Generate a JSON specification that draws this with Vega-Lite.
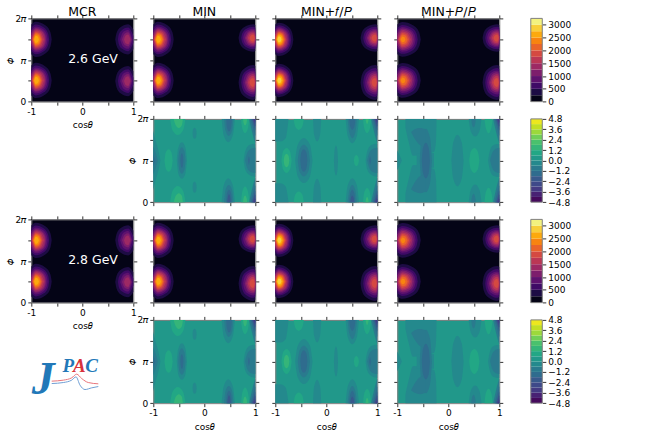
{"$schema":"https://vega.github.io/schema/vega-lite/v6.json","padding":{"left":4.3,"top":5.4,"right":0,"bottom":0},"background":"white","columns":5,"bounds":"flush","spacing":{"row":16.5,"column":20},
"config":{"font":"DejaVu Sans","view":{"stroke":null},"legend":{"disable":true},"range":{"ordinal":["#450a5c","#482173","#443a83","#3e4989","#38598c","#2f6c8e","#2a7a8e","#24898d","#21988a","#22a785","#35b579","#4ac16d","#70cf57","#9cd93b","#c2df23","#ede71e"]},"title":{"fontSize":12.5,"fontWeight":"normal","offset":-4.3,"color":"#000"},"axis":{"labelFont":"DejaVu Sans","labelFontSize":9,"labelColor":"#000","titleFontSize":9,"titleFontWeight":"normal","titleColor":"#000","tickColor":"#000","tickSize":3.5,"tickWidth":0.8,"domainColor":"#808080","domainWidth":1,"grid":false,"labelPadding":2,"labelFlush":false,"labelOverlap":false,"zindex":1}},
"datasets":{
"f":[{"i":0,"v":125,"x":-1,"y":0,"z":0},{"i":0,"v":125,"x":1,"y":6.2832,"z":6.2832}],
"lA":[{"i":1,"v":375,"x":-1,"y":0.47,"z":2.73},{"i":1,"v":375,"x":-0.91,"y":0.27,"z":2.93},{"i":1,"v":375,"x":-0.724,"y":0.54,"z":2.66},{"i":1,"v":375,"x":-0.625,"y":1.07,"z":2.13},{"i":1,"v":375,"x":-0.6,"y":1.6,"z":1.6},
{"i":2,"v":625,"x":-1,"y":0.72,"z":2.48},{"i":2,"v":625,"x":-0.91,"y":0.47,"z":2.73},{"i":2,"v":625,"x":-0.754,"y":0.7,"z":2.5},{"i":2,"v":625,"x":-0.671,"y":1.15,"z":2.05},{"i":2,"v":625,"x":-0.65,"y":1.6,"z":1.6},
{"i":3,"v":875,"x":-1,"y":0.92,"z":2.28},{"i":3,"v":875,"x":-0.91,"y":0.62,"z":2.58},{"i":3,"v":875,"x":-0.772,"y":0.82,"z":2.38},{"i":3,"v":875,"x":-0.698,"y":1.21,"z":1.99},{"i":3,"v":875,"x":-0.68,"y":1.6,"z":1.6},
{"i":4,"v":1125,"x":-1,"y":1.11,"z":2.09},{"i":4,"v":1125,"x":-0.91,"y":0.74,"z":2.46},{"i":4,"v":1125,"x":-0.79,"y":0.91,"z":2.29},{"i":4,"v":1125,"x":-0.726,"y":1.26,"z":1.94},{"i":4,"v":1125,"x":-0.71,"y":1.6,"z":1.6},
{"i":5,"v":1375,"x":-1,"y":1.3,"z":1.9},{"i":5,"v":1375,"x":-0.91,"y":0.83,"z":2.37},{"i":5,"v":1375,"x":-0.802,"y":0.98,"z":2.22},{"i":5,"v":1375,"x":-0.744,"y":1.29,"z":1.91},{"i":5,"v":1375,"x":-0.73,"y":1.6,"z":1.6},
{"i":6,"v":1625,"x":-0.996,"y":1.6,"z":1.6},{"i":6,"v":1625,"x":-0.91,"y":0.93,"z":2.27},{"i":6,"v":1625,"x":-0.814,"y":1.06,"z":2.14},{"i":6,"v":1625,"x":-0.75,"y":1.6,"z":1.6},
{"i":7,"v":1875,"x":-0.984,"y":1.6,"z":1.6},{"i":7,"v":1875,"x":-0.91,"y":1.02,"z":2.18},{"i":7,"v":1875,"x":-0.832,"y":1.14,"z":2.06},{"i":7,"v":1875,"x":-0.78,"y":1.6,"z":1.6},
{"i":8,"v":2125,"x":-0.97,"y":1.6,"z":1.6},{"i":8,"v":2125,"x":-0.91,"y":1.12,"z":2.08},{"i":8,"v":2125,"x":-0.844,"y":1.22,"z":1.98},{"i":8,"v":2125,"x":-0.8,"y":1.6,"z":1.6},
{"i":9,"v":2375,"x":-0.96,"y":1.6,"z":1.6},{"i":9,"v":2375,"x":-0.91,"y":1.21,"z":1.99},{"i":9,"v":2375,"x":-0.856,"y":1.29,"z":1.91},{"i":9,"v":2375,"x":-0.82,"y":1.6,"z":1.6},
{"i":10,"v":2625,"x":-0.944,"y":1.6,"z":1.6},{"i":10,"v":2625,"x":-0.91,"y":1.33,"z":1.87},{"i":10,"v":2625,"x":-0.874,"y":1.38,"z":1.82},{"i":10,"v":2625,"x":-0.85,"y":1.6,"z":1.6},
{"i":11,"v":375,"x":-1,"y":3.57,"z":5.83},{"i":11,"v":375,"x":-0.91,"y":3.37,"z":6.03},{"i":11,"v":375,"x":-0.724,"y":3.64,"z":5.76},{"i":11,"v":375,"x":-0.625,"y":4.17,"z":5.23},{"i":11,"v":375,"x":-0.6,"y":4.7,"z":4.7},
{"i":12,"v":625,"x":-1,"y":3.82,"z":5.58},{"i":12,"v":625,"x":-0.91,"y":3.57,"z":5.83},{"i":12,"v":625,"x":-0.754,"y":3.8,"z":5.6},{"i":12,"v":625,"x":-0.671,"y":4.25,"z":5.15},{"i":12,"v":625,"x":-0.65,"y":4.7,"z":4.7},
{"i":13,"v":875,"x":-1,"y":4.02,"z":5.38},{"i":13,"v":875,"x":-0.91,"y":3.72,"z":5.68},{"i":13,"v":875,"x":-0.772,"y":3.92,"z":5.48},{"i":13,"v":875,"x":-0.698,"y":4.31,"z":5.09},{"i":13,"v":875,"x":-0.68,"y":4.7,"z":4.7},
{"i":14,"v":1125,"x":-1,"y":4.21,"z":5.19},{"i":14,"v":1125,"x":-0.91,"y":3.84,"z":5.56},{"i":14,"v":1125,"x":-0.79,"y":4.01,"z":5.39},{"i":14,"v":1125,"x":-0.726,"y":4.36,"z":5.04},{"i":14,"v":1125,"x":-0.71,"y":4.7,"z":4.7},
{"i":15,"v":1375,"x":-1,"y":4.4,"z":5},{"i":15,"v":1375,"x":-0.91,"y":3.93,"z":5.47},{"i":15,"v":1375,"x":-0.802,"y":4.08,"z":5.32},{"i":15,"v":1375,"x":-0.744,"y":4.39,"z":5.01},{"i":15,"v":1375,"x":-0.73,"y":4.7,"z":4.7},
{"i":16,"v":1625,"x":-0.996,"y":4.7,"z":4.7},{"i":16,"v":1625,"x":-0.91,"y":4.03,"z":5.37},{"i":16,"v":1625,"x":-0.814,"y":4.16,"z":5.24},{"i":16,"v":1625,"x":-0.75,"y":4.7,"z":4.7},
{"i":17,"v":1875,"x":-0.984,"y":4.7,"z":4.7},{"i":17,"v":1875,"x":-0.91,"y":4.12,"z":5.28},{"i":17,"v":1875,"x":-0.832,"y":4.24,"z":5.16},{"i":17,"v":1875,"x":-0.78,"y":4.7,"z":4.7},
{"i":18,"v":2125,"x":-0.97,"y":4.7,"z":4.7},{"i":18,"v":2125,"x":-0.91,"y":4.22,"z":5.18},{"i":18,"v":2125,"x":-0.844,"y":4.32,"z":5.08},{"i":18,"v":2125,"x":-0.8,"y":4.7,"z":4.7},
{"i":19,"v":2375,"x":-0.96,"y":4.7,"z":4.7},{"i":19,"v":2375,"x":-0.91,"y":4.31,"z":5.09},{"i":19,"v":2375,"x":-0.856,"y":4.39,"z":5.01},{"i":19,"v":2375,"x":-0.82,"y":4.7,"z":4.7},
{"i":20,"v":2625,"x":-0.944,"y":4.7,"z":4.7},{"i":20,"v":2625,"x":-0.91,"y":4.43,"z":4.97},{"i":20,"v":2625,"x":-0.874,"y":4.48,"z":4.92},{"i":20,"v":2625,"x":-0.85,"y":4.7,"z":4.7}],
"lF":[{"i":1,"v":375,"x":-1,"y":0.47,"z":2.73},{"i":1,"v":375,"x":-0.93,"y":0.34,"z":2.86},{"i":1,"v":375,"x":-0.76,"y":0.59,"z":2.61},{"i":1,"v":375,"x":-0.669,"y":1.1,"z":2.1},{"i":1,"v":375,"x":-0.646,"y":1.6,"z":1.6},
{"i":2,"v":625,"x":-1,"y":0.69,"z":2.51},{"i":2,"v":625,"x":-0.93,"y":0.53,"z":2.67},{"i":2,"v":625,"x":-0.785,"y":0.74,"z":2.46},{"i":2,"v":625,"x":-0.708,"y":1.17,"z":2.03},{"i":2,"v":625,"x":-0.689,"y":1.6,"z":1.6},
{"i":3,"v":875,"x":-1,"y":0.84,"z":2.36},{"i":3,"v":875,"x":-0.93,"y":0.66,"z":2.54},{"i":3,"v":875,"x":-0.803,"y":0.85,"z":2.35},{"i":3,"v":875,"x":-0.735,"y":1.22,"z":1.98},{"i":3,"v":875,"x":-0.718,"y":1.6,"z":1.6},
{"i":4,"v":1125,"x":-1,"y":0.98,"z":2.22},{"i":4,"v":1125,"x":-0.93,"y":0.76,"z":2.44},{"i":4,"v":1125,"x":-0.817,"y":0.93,"z":2.27},{"i":4,"v":1125,"x":-0.756,"y":1.26,"z":1.94},{"i":4,"v":1125,"x":-0.741,"y":1.6,"z":1.6},
{"i":5,"v":1375,"x":-1,"y":1.1,"z":2.1},{"i":5,"v":1375,"x":-0.93,"y":0.85,"z":2.35},{"i":5,"v":1375,"x":-0.829,"y":1,"z":2.2},{"i":5,"v":1375,"x":-0.775,"y":1.3,"z":1.9},{"i":5,"v":1375,"x":-0.761,"y":1.6,"z":1.6},
{"i":6,"v":1625,"x":-1,"y":1.24,"z":1.96},{"i":6,"v":1625,"x":-0.93,"y":0.94,"z":2.26},{"i":6,"v":1625,"x":-0.84,"y":1.07,"z":2.13},{"i":6,"v":1625,"x":-0.781,"y":1.6,"z":1.6},
{"i":7,"v":1875,"x":-1,"y":1.44,"z":1.76},{"i":7,"v":1875,"x":-0.93,"y":1.02,"z":2.18},{"i":7,"v":1875,"x":-0.851,"y":1.14,"z":2.06},{"i":7,"v":1875,"x":-0.799,"y":1.6,"z":1.6},
{"i":8,"v":2125,"x":-0.994,"y":1.6,"z":1.6},{"i":8,"v":2125,"x":-0.93,"y":1.09,"z":2.11},{"i":8,"v":2125,"x":-0.861,"y":1.19,"z":2.01},{"i":8,"v":2125,"x":-0.815,"y":1.6,"z":1.6},
{"i":9,"v":2375,"x":-0.984,"y":1.6,"z":1.6},{"i":9,"v":2375,"x":-0.93,"y":1.17,"z":2.03},{"i":9,"v":2375,"x":-0.872,"y":1.26,"z":1.94},{"i":9,"v":2375,"x":-0.833,"y":1.6,"z":1.6},
{"i":10,"v":2625,"x":-0.973,"y":1.6,"z":1.6},{"i":10,"v":2625,"x":-0.93,"y":1.26,"z":1.94},{"i":10,"v":2625,"x":-0.884,"y":1.33,"z":1.87},{"i":10,"v":2625,"x":-0.853,"y":1.6,"z":1.6},
{"i":11,"v":2875,"x":-0.959,"y":1.6,"z":1.6},{"i":11,"v":2875,"x":-0.93,"y":1.37,"z":1.83},{"i":11,"v":2875,"x":-0.899,"y":1.42,"z":1.78},{"i":11,"v":2875,"x":-0.878,"y":1.6,"z":1.6},
{"i":12,"v":375,"x":-1,"y":3.57,"z":5.83},{"i":12,"v":375,"x":-0.93,"y":3.44,"z":5.96},{"i":12,"v":375,"x":-0.76,"y":3.69,"z":5.71},{"i":12,"v":375,"x":-0.669,"y":4.2,"z":5.2},{"i":12,"v":375,"x":-0.646,"y":4.7,"z":4.7},
{"i":13,"v":625,"x":-1,"y":3.79,"z":5.61},{"i":13,"v":625,"x":-0.93,"y":3.63,"z":5.77},{"i":13,"v":625,"x":-0.785,"y":3.84,"z":5.56},{"i":13,"v":625,"x":-0.708,"y":4.27,"z":5.13},{"i":13,"v":625,"x":-0.689,"y":4.7,"z":4.7},
{"i":14,"v":875,"x":-1,"y":3.94,"z":5.46},{"i":14,"v":875,"x":-0.93,"y":3.76,"z":5.64},{"i":14,"v":875,"x":-0.803,"y":3.95,"z":5.45},{"i":14,"v":875,"x":-0.735,"y":4.32,"z":5.08},{"i":14,"v":875,"x":-0.718,"y":4.7,"z":4.7},
{"i":15,"v":1125,"x":-1,"y":4.08,"z":5.32},{"i":15,"v":1125,"x":-0.93,"y":3.86,"z":5.54},{"i":15,"v":1125,"x":-0.817,"y":4.03,"z":5.37},{"i":15,"v":1125,"x":-0.756,"y":4.36,"z":5.04},{"i":15,"v":1125,"x":-0.741,"y":4.7,"z":4.7},
{"i":16,"v":1375,"x":-1,"y":4.2,"z":5.2},{"i":16,"v":1375,"x":-0.93,"y":3.95,"z":5.45},{"i":16,"v":1375,"x":-0.829,"y":4.1,"z":5.3},{"i":16,"v":1375,"x":-0.775,"y":4.4,"z":5},{"i":16,"v":1375,"x":-0.761,"y":4.7,"z":4.7},
{"i":17,"v":1625,"x":-1,"y":4.34,"z":5.06},{"i":17,"v":1625,"x":-0.93,"y":4.04,"z":5.36},{"i":17,"v":1625,"x":-0.84,"y":4.17,"z":5.23},{"i":17,"v":1625,"x":-0.781,"y":4.7,"z":4.7},
{"i":18,"v":1875,"x":-1,"y":4.54,"z":4.86},{"i":18,"v":1875,"x":-0.93,"y":4.12,"z":5.28},{"i":18,"v":1875,"x":-0.851,"y":4.24,"z":5.16},{"i":18,"v":1875,"x":-0.799,"y":4.7,"z":4.7},
{"i":19,"v":2125,"x":-0.994,"y":4.7,"z":4.7},{"i":19,"v":2125,"x":-0.93,"y":4.19,"z":5.21},{"i":19,"v":2125,"x":-0.861,"y":4.29,"z":5.11},{"i":19,"v":2125,"x":-0.815,"y":4.7,"z":4.7},
{"i":20,"v":2375,"x":-0.984,"y":4.7,"z":4.7},{"i":20,"v":2375,"x":-0.93,"y":4.27,"z":5.13},{"i":20,"v":2375,"x":-0.872,"y":4.36,"z":5.04},{"i":20,"v":2375,"x":-0.833,"y":4.7,"z":4.7},
{"i":21,"v":2625,"x":-0.973,"y":4.7,"z":4.7},{"i":21,"v":2625,"x":-0.93,"y":4.36,"z":5.04},{"i":21,"v":2625,"x":-0.884,"y":4.43,"z":4.97},{"i":21,"v":2625,"x":-0.853,"y":4.7,"z":4.7},
{"i":22,"v":2875,"x":-0.959,"y":4.7,"z":4.7},{"i":22,"v":2875,"x":-0.93,"y":4.47,"z":4.93},{"i":22,"v":2875,"x":-0.899,"y":4.52,"z":4.88},{"i":22,"v":2875,"x":-0.878,"y":4.7,"z":4.7}],
"lP":[{"i":1,"v":375,"x":-1,"y":0.47,"z":2.73},{"i":1,"v":375,"x":-0.9,"y":0.29,"z":2.91},{"i":1,"v":375,"x":-0.684,"y":0.55,"z":2.65},{"i":1,"v":375,"x":-0.569,"y":1.08,"z":2.12},{"i":1,"v":375,"x":-0.54,"y":1.6,"z":1.6},
{"i":2,"v":625,"x":-1,"y":0.75,"z":2.45},{"i":2,"v":625,"x":-0.9,"y":0.51,"z":2.69},{"i":2,"v":625,"x":-0.72,"y":0.73,"z":2.47},{"i":2,"v":625,"x":-0.624,"y":1.16,"z":2.04},{"i":2,"v":625,"x":-0.6,"y":1.6,"z":1.6},
{"i":3,"v":875,"x":-1,"y":0.94,"z":2.26},{"i":3,"v":875,"x":-0.9,"y":0.66,"z":2.54},{"i":3,"v":875,"x":-0.744,"y":0.85,"z":2.35},{"i":3,"v":875,"x":-0.661,"y":1.22,"z":1.98},{"i":3,"v":875,"x":-0.64,"y":1.6,"z":1.6},
{"i":4,"v":1125,"x":-1,"y":1.13,"z":2.07},{"i":4,"v":1125,"x":-0.9,"y":0.78,"z":2.42},{"i":4,"v":1125,"x":-0.764,"y":0.94,"z":2.26},{"i":4,"v":1125,"x":-0.692,"y":1.27,"z":1.93},{"i":4,"v":1125,"x":-0.674,"y":1.6,"z":1.6},
{"i":5,"v":1375,"x":-1,"y":1.38,"z":1.82},{"i":5,"v":1375,"x":-0.9,"y":0.9,"z":2.3},{"i":5,"v":1375,"x":-0.784,"y":1.04,"z":2.16},{"i":5,"v":1375,"x":-0.722,"y":1.32,"z":1.88},{"i":5,"v":1375,"x":-0.706,"y":1.6,"z":1.6},
{"i":6,"v":1625,"x":-0.99,"y":1.6,"z":1.6},{"i":6,"v":1625,"x":-0.9,"y":1,"z":2.2},{"i":6,"v":1625,"x":-0.8,"y":1.12,"z":2.08},{"i":6,"v":1625,"x":-0.734,"y":1.6,"z":1.6},
{"i":7,"v":1875,"x":-0.973,"y":1.6,"z":1.6},{"i":7,"v":1875,"x":-0.9,"y":1.11,"z":2.09},{"i":7,"v":1875,"x":-0.82,"y":1.21,"z":1.99},{"i":7,"v":1875,"x":-0.766,"y":1.6,"z":1.6},
{"i":8,"v":2125,"x":-0.956,"y":1.6,"z":1.6},{"i":8,"v":2125,"x":-0.9,"y":1.23,"z":1.97},{"i":8,"v":2125,"x":-0.838,"y":1.3,"z":1.9},{"i":8,"v":2125,"x":-0.797,"y":1.6,"z":1.6},
{"i":9,"v":2375,"x":-0.933,"y":1.6,"z":1.6},{"i":9,"v":2375,"x":-0.9,"y":1.38,"z":1.82},{"i":9,"v":2375,"x":-0.864,"y":1.42,"z":1.78},{"i":9,"v":2375,"x":-0.84,"y":1.6,"z":1.6},
{"i":10,"v":375,"x":-1,"y":3.57,"z":5.83},{"i":10,"v":375,"x":-0.9,"y":3.39,"z":6.01},{"i":10,"v":375,"x":-0.684,"y":3.65,"z":5.75},{"i":10,"v":375,"x":-0.569,"y":4.18,"z":5.22},{"i":10,"v":375,"x":-0.54,"y":4.7,"z":4.7},
{"i":11,"v":625,"x":-1,"y":3.85,"z":5.55},{"i":11,"v":625,"x":-0.9,"y":3.61,"z":5.79},{"i":11,"v":625,"x":-0.72,"y":3.83,"z":5.57},{"i":11,"v":625,"x":-0.624,"y":4.26,"z":5.14},{"i":11,"v":625,"x":-0.6,"y":4.7,"z":4.7},
{"i":12,"v":875,"x":-1,"y":4.04,"z":5.36},{"i":12,"v":875,"x":-0.9,"y":3.76,"z":5.64},{"i":12,"v":875,"x":-0.744,"y":3.95,"z":5.45},{"i":12,"v":875,"x":-0.661,"y":4.32,"z":5.08},{"i":12,"v":875,"x":-0.64,"y":4.7,"z":4.7},
{"i":13,"v":1125,"x":-1,"y":4.23,"z":5.17},{"i":13,"v":1125,"x":-0.9,"y":3.88,"z":5.52},{"i":13,"v":1125,"x":-0.764,"y":4.04,"z":5.36},{"i":13,"v":1125,"x":-0.692,"y":4.37,"z":5.03},{"i":13,"v":1125,"x":-0.674,"y":4.7,"z":4.7},
{"i":14,"v":1375,"x":-1,"y":4.48,"z":4.92},{"i":14,"v":1375,"x":-0.9,"y":4,"z":5.4},{"i":14,"v":1375,"x":-0.784,"y":4.14,"z":5.26},{"i":14,"v":1375,"x":-0.722,"y":4.42,"z":4.98},{"i":14,"v":1375,"x":-0.706,"y":4.7,"z":4.7},
{"i":15,"v":1625,"x":-0.99,"y":4.7,"z":4.7},{"i":15,"v":1625,"x":-0.9,"y":4.1,"z":5.3},{"i":15,"v":1625,"x":-0.8,"y":4.22,"z":5.18},{"i":15,"v":1625,"x":-0.734,"y":4.7,"z":4.7},
{"i":16,"v":1875,"x":-0.973,"y":4.7,"z":4.7},{"i":16,"v":1875,"x":-0.9,"y":4.21,"z":5.19},{"i":16,"v":1875,"x":-0.82,"y":4.31,"z":5.09},{"i":16,"v":1875,"x":-0.766,"y":4.7,"z":4.7},
{"i":17,"v":2125,"x":-0.956,"y":4.7,"z":4.7},{"i":17,"v":2125,"x":-0.9,"y":4.33,"z":5.07},{"i":17,"v":2125,"x":-0.838,"y":4.4,"z":5},{"i":17,"v":2125,"x":-0.797,"y":4.7,"z":4.7},
{"i":18,"v":2375,"x":-0.933,"y":4.7,"z":4.7},{"i":18,"v":2375,"x":-0.9,"y":4.48,"z":4.92},{"i":18,"v":2375,"x":-0.864,"y":4.52,"z":4.88},{"i":18,"v":2375,"x":-0.84,"y":4.7,"z":4.7}],
"rA":[{"i":1,"v":375,"x":0.646,"y":1.55,"z":1.55},{"i":1,"v":375,"x":0.67,"y":1.09,"z":2.01},{"i":1,"v":375,"x":0.748,"y":0.64,"z":2.46},{"i":1,"v":375,"x":0.9,"y":0.41,"z":2.69},{"i":1,"v":375,"x":1,"y":0.8,"z":2.3},
{"i":2,"v":625,"x":0.7,"y":1.55,"z":1.55},{"i":2,"v":625,"x":0.716,"y":1.19,"z":1.91},{"i":2,"v":625,"x":0.78,"y":0.84,"z":2.26},{"i":2,"v":625,"x":0.9,"y":0.66,"z":2.44},{"i":2,"v":625,"x":1,"y":1.27,"z":1.83},
{"i":3,"v":875,"x":0.742,"y":1.55,"z":1.55},{"i":3,"v":875,"x":0.805,"y":0.98,"z":2.12},{"i":3,"v":875,"x":0.9,"y":0.84,"z":2.26},{"i":3,"v":875,"x":0.983,"y":1.55,"z":1.55},
{"i":4,"v":1125,"x":0.778,"y":1.55,"z":1.55},{"i":4,"v":1125,"x":0.83,"y":1.12,"z":1.98},{"i":4,"v":1125,"x":0.9,"y":1.01,"z":2.09},{"i":4,"v":1125,"x":0.964,"y":1.55,"z":1.55},
{"i":5,"v":1375,"x":0.818,"y":1.55,"z":1.55},{"i":5,"v":1375,"x":0.85,"y":1.25,"z":1.85},{"i":5,"v":1375,"x":0.9,"y":1.18,"z":1.92},{"i":5,"v":1375,"x":0.943,"y":1.55,"z":1.55},
{"i":6,"v":375,"x":0.646,"y":4.7,"z":4.7},{"i":6,"v":375,"x":0.67,"y":4.24,"z":5.16},{"i":6,"v":375,"x":0.748,"y":3.79,"z":5.61},{"i":6,"v":375,"x":0.9,"y":3.56,"z":5.84},{"i":6,"v":375,"x":1,"y":3.95,"z":5.45},
{"i":7,"v":625,"x":0.7,"y":4.7,"z":4.7},{"i":7,"v":625,"x":0.716,"y":4.34,"z":5.06},{"i":7,"v":625,"x":0.78,"y":3.99,"z":5.41},{"i":7,"v":625,"x":0.9,"y":3.81,"z":5.59},{"i":7,"v":625,"x":1,"y":4.42,"z":4.98},
{"i":8,"v":875,"x":0.742,"y":4.7,"z":4.7},{"i":8,"v":875,"x":0.805,"y":4.13,"z":5.27},{"i":8,"v":875,"x":0.9,"y":3.99,"z":5.41},{"i":8,"v":875,"x":0.983,"y":4.7,"z":4.7},
{"i":9,"v":1125,"x":0.778,"y":4.7,"z":4.7},{"i":9,"v":1125,"x":0.83,"y":4.27,"z":5.13},{"i":9,"v":1125,"x":0.9,"y":4.16,"z":5.24},{"i":9,"v":1125,"x":0.964,"y":4.7,"z":4.7},
{"i":10,"v":1375,"x":0.818,"y":4.7,"z":4.7},{"i":10,"v":1375,"x":0.85,"y":4.4,"z":5},{"i":10,"v":1375,"x":0.9,"y":4.33,"z":5.07},{"i":10,"v":1375,"x":0.943,"y":4.7,"z":4.7}],
"rB":[{"i":1,"v":375,"x":0.672,"y":1.45,"z":1.45},{"i":1,"v":375,"x":0.695,"y":0.92,"z":1.98},{"i":1,"v":375,"x":0.787,"y":0.39,"z":2.51},{"i":1,"v":375,"x":0.96,"y":0.13,"z":2.77},{"i":1,"v":375,"x":1,"y":0.21,"z":2.69},
{"i":2,"v":625,"x":0.724,"y":1.45,"z":1.45},{"i":2,"v":625,"x":0.743,"y":1.01,"z":1.89},{"i":2,"v":625,"x":0.818,"y":0.58,"z":2.32},{"i":2,"v":625,"x":0.96,"y":0.36,"z":2.54},{"i":2,"v":625,"x":1,"y":0.46,"z":2.44},
{"i":3,"v":875,"x":0.762,"y":1.45,"z":1.45},{"i":3,"v":875,"x":0.778,"y":1.09,"z":1.81},{"i":3,"v":875,"x":0.841,"y":0.72,"z":2.18},{"i":3,"v":875,"x":0.96,"y":0.54,"z":2.36},{"i":3,"v":875,"x":1,"y":0.66,"z":2.24},
{"i":4,"v":1125,"x":0.794,"y":1.45,"z":1.45},{"i":4,"v":1125,"x":0.86,"y":0.84,"z":2.06},{"i":4,"v":1125,"x":0.96,"y":0.69,"z":2.21},{"i":4,"v":1125,"x":1,"y":0.84,"z":2.06},
{"i":5,"v":1375,"x":0.822,"y":1.45,"z":1.45},{"i":5,"v":1375,"x":0.877,"y":0.95,"z":1.95},{"i":5,"v":1375,"x":0.96,"y":0.82,"z":2.08},{"i":5,"v":1375,"x":1,"y":1.02,"z":1.88},
{"i":6,"v":1625,"x":0.852,"y":1.45,"z":1.45},{"i":6,"v":1625,"x":0.895,"y":1.05,"z":1.85},{"i":6,"v":1625,"x":0.96,"y":0.95,"z":1.95},{"i":6,"v":1625,"x":1,"y":1.26,"z":1.64},
{"i":7,"v":1875,"x":0.886,"y":1.45,"z":1.45},{"i":7,"v":1875,"x":0.916,"y":1.18,"z":1.72},{"i":7,"v":1875,"x":0.96,"y":1.11,"z":1.79},{"i":7,"v":1875,"x":0.99,"y":1.45,"z":1.45},
{"i":8,"v":375,"x":0.672,"y":4.8,"z":4.8},{"i":8,"v":375,"x":0.695,"y":4.38,"z":5.22},{"i":8,"v":375,"x":0.787,"y":3.97,"z":5.63},{"i":8,"v":375,"x":0.96,"y":3.76,"z":5.84},{"i":8,"v":375,"x":1,"y":3.82,"z":5.78},
{"i":9,"v":625,"x":0.724,"y":4.8,"z":4.8},{"i":9,"v":625,"x":0.743,"y":4.46,"z":5.14},{"i":9,"v":625,"x":0.818,"y":4.12,"z":5.48},{"i":9,"v":625,"x":0.96,"y":3.95,"z":5.65},{"i":9,"v":625,"x":1,"y":4.03,"z":5.57},
{"i":10,"v":875,"x":0.762,"y":4.8,"z":4.8},{"i":10,"v":875,"x":0.778,"y":4.52,"z":5.08},{"i":10,"v":875,"x":0.841,"y":4.23,"z":5.37},{"i":10,"v":875,"x":0.96,"y":4.09,"z":5.51},{"i":10,"v":875,"x":1,"y":4.18,"z":5.42},
{"i":11,"v":1125,"x":0.794,"y":4.8,"z":4.8},{"i":11,"v":1125,"x":0.86,"y":4.32,"z":5.28},{"i":11,"v":1125,"x":0.96,"y":4.2,"z":5.4},{"i":11,"v":1125,"x":1,"y":4.32,"z":5.28},
{"i":12,"v":1375,"x":0.822,"y":4.8,"z":4.8},{"i":12,"v":1375,"x":0.877,"y":4.4,"z":5.2},{"i":12,"v":1375,"x":0.96,"y":4.3,"z":5.3},{"i":12,"v":1375,"x":1,"y":4.45,"z":5.15},
{"i":13,"v":1625,"x":0.852,"y":4.8,"z":4.8},{"i":13,"v":1625,"x":0.895,"y":4.49,"z":5.11},{"i":13,"v":1625,"x":0.96,"y":4.41,"z":5.19},{"i":13,"v":1625,"x":1,"y":4.66,"z":4.94},
{"i":14,"v":1875,"x":0.886,"y":4.8,"z":4.8},{"i":14,"v":1875,"x":0.916,"y":4.58,"z":5.02},{"i":14,"v":1875,"x":0.96,"y":4.53,"z":5.07},{"i":14,"v":1875,"x":0.99,"y":4.8,"z":4.8}],
"dC":[{"i":1,"v":-0.9,"x":0.88,"y":6.28,"z":6.28},{"i":1,"v":-0.9,"x":0.93,"y":5.4,"z":6.28},{"i":1,"v":-0.9,"x":1,"y":4.4,"z":6.28},
{"i":2,"v":-1.5,"x":0.91,"y":6.28,"z":6.28},{"i":2,"v":-1.5,"x":0.95,"y":5.7,"z":6.28},{"i":2,"v":-1.5,"x":1,"y":5,"z":6.28},
{"i":3,"v":-2.1,"x":0.93,"y":6.28,"z":6.28},{"i":3,"v":-2.1,"x":0.97,"y":5.85,"z":6.28},{"i":3,"v":-2.1,"x":1,"y":5.4,"z":6.28},
{"i":4,"v":-2.7,"x":0.95,"y":6.28,"z":6.28},{"i":4,"v":-2.7,"x":0.98,"y":6,"z":6.28},{"i":4,"v":-2.7,"x":1,"y":5.7,"z":6.28},
{"i":5,"v":-3.3,"x":0.97,"y":6.28,"z":6.28},{"i":5,"v":-3.3,"x":1,"y":6,"z":6.28},
{"i":6,"v":-0.9,"x":0.88,"y":0,"z":0},{"i":6,"v":-0.9,"x":0.93,"y":0,"z":0.88},{"i":6,"v":-0.9,"x":1,"y":0,"z":1.88},
{"i":7,"v":-1.5,"x":0.91,"y":0,"z":0},{"i":7,"v":-1.5,"x":0.95,"y":0,"z":0.58},{"i":7,"v":-1.5,"x":1,"y":0,"z":1.28},
{"i":8,"v":-2.1,"x":0.93,"y":0,"z":0},{"i":8,"v":-2.1,"x":0.97,"y":0,"z":0.43},{"i":8,"v":-2.1,"x":1,"y":0,"z":0.88},
{"i":9,"v":-2.7,"x":0.95,"y":0,"z":0},{"i":9,"v":-2.7,"x":0.98,"y":0,"z":0.28},{"i":9,"v":-2.7,"x":1,"y":0,"z":0.58},
{"i":10,"v":-3.3,"x":0.97,"y":0,"z":0},{"i":10,"v":-3.3,"x":1,"y":0,"z":0.28}],
"dM":[{"i":1,"v":-0.3,"x":-1,"y":0.9,"z":5.4},{"i":1,"v":-0.3,"x":-0.95,"y":1.7,"z":4.6},{"i":1,"v":-0.3,"x":-0.9,"y":2.4,"z":3.9},{"i":1,"v":-0.3,"x":-0.86,"y":3.14,"z":3.14},
{"i":2,"v":-0.9,"x":-1,"y":2.1,"z":4.2},{"i":2,"v":-0.9,"x":-0.95,"y":2.6,"z":3.7},{"i":2,"v":-0.9,"x":-0.91,"y":3.14,"z":3.14},
{"i":3,"v":-1.5,"x":-1,"y":2.7,"z":3.6},{"i":3,"v":-1.5,"x":-0.96,"y":3.14,"z":3.14},
{"i":4,"v":0.9,"x":-0.78,"y":3.14,"z":3.14},{"i":4,"v":0.9,"x":-0.756,"y":2.54,"z":3.74},{"i":4,"v":0.9,"x":-0.7,"y":2.29,"z":3.99},{"i":4,"v":0.9,"x":-0.644,"y":2.54,"z":3.74},{"i":4,"v":0.9,"x":-0.62,"y":3.14,"z":3.14},
{"i":5,"v":0.9,"x":-0.67,"y":6.28,"z":6.28},{"i":5,"v":0.9,"x":-0.625,"y":5.43,"z":6.28},{"i":5,"v":0.9,"x":-0.52,"y":5.07,"z":6.28},{"i":5,"v":0.9,"x":-0.415,"y":5.43,"z":6.28},{"i":5,"v":0.9,"x":-0.37,"y":6.28,"z":6.28},
{"i":6,"v":1.5,"x":-0.6,"y":6.28,"z":6.28},{"i":6,"v":1.5,"x":-0.56,"y":5.8,"z":6.28},{"i":6,"v":1.5,"x":-0.5,"y":5.6,"z":6.28},{"i":6,"v":1.5,"x":-0.44,"y":5.8,"z":6.28},{"i":6,"v":1.5,"x":-0.42,"y":6.28,"z":6.28},
{"i":7,"v":0.9,"x":-0.67,"y":0,"z":0},{"i":7,"v":0.9,"x":-0.625,"y":0,"z":0.85},{"i":7,"v":0.9,"x":-0.52,"y":0,"z":1.21},{"i":7,"v":0.9,"x":-0.415,"y":0,"z":0.85},{"i":7,"v":0.9,"x":-0.37,"y":0,"z":0},
{"i":8,"v":1.5,"x":-0.6,"y":0,"z":0},{"i":8,"v":1.5,"x":-0.56,"y":0,"z":0.48},{"i":8,"v":1.5,"x":-0.5,"y":0,"z":0.68},{"i":8,"v":1.5,"x":-0.44,"y":0,"z":0.48},{"i":8,"v":1.5,"x":-0.42,"y":0,"z":0},
{"i":9,"v":-0.3,"x":-0.54,"y":3.14,"z":3.14},{"i":9,"v":-0.3,"x":-0.51,"y":2.17,"z":4.11},{"i":9,"v":-0.3,"x":-0.44,"y":1.76,"z":4.52},{"i":9,"v":-0.3,"x":-0.37,"y":2.17,"z":4.11},{"i":9,"v":-0.3,"x":-0.34,"y":3.14,"z":3.14},
{"i":10,"v":-0.9,"x":-0.51,"y":3.14,"z":3.14},{"i":10,"v":-0.9,"x":-0.49,"y":2.44,"z":3.84},{"i":10,"v":-0.9,"x":-0.44,"y":2.14,"z":4.14},{"i":10,"v":-0.9,"x":-0.39,"y":2.44,"z":3.84},{"i":10,"v":-0.9,"x":-0.37,"y":3.14,"z":3.14},
{"i":11,"v":-1.5,"x":-0.47,"y":3.14,"z":3.14},{"i":11,"v":-1.5,"x":-0.46,"y":2.75,"z":3.53},{"i":11,"v":-1.5,"x":-0.44,"y":2.59,"z":3.69},{"i":11,"v":-1.5,"x":-0.42,"y":2.75,"z":3.53},{"i":11,"v":-1.5,"x":-0.41,"y":3.14,"z":3.14},
{"i":12,"v":-0.3,"x":-0.23,"y":5.2,"z":5.2},{"i":12,"v":-0.3,"x":-0.22,"y":4.9,"z":5.5},{"i":12,"v":-0.3,"x":-0.19,"y":4.78,"z":5.62},{"i":12,"v":-0.3,"x":-0.16,"y":4.9,"z":5.5},{"i":12,"v":-0.3,"x":-0.15,"y":5.2,"z":5.2},
{"i":13,"v":-0.3,"x":-0.23,"y":1.13,"z":1.13},{"i":13,"v":-0.3,"x":-0.22,"y":0.83,"z":1.43},{"i":13,"v":-0.3,"x":-0.19,"y":0.71,"z":1.55},{"i":13,"v":-0.3,"x":-0.16,"y":0.83,"z":1.43},{"i":13,"v":-0.3,"x":-0.15,"y":1.13,"z":1.13},
{"i":14,"v":-0.3,"x":0.34,"y":6.28,"z":6.28},{"i":14,"v":-0.3,"x":0.38,"y":5.05,"z":6.28},{"i":14,"v":-0.3,"x":0.47,"y":4.52,"z":6.28},{"i":14,"v":-0.3,"x":0.56,"y":5.05,"z":6.28},{"i":14,"v":-0.3,"x":0.6,"y":6.28,"z":6.28},
{"i":15,"v":-0.9,"x":0.39,"y":6.28,"z":6.28},{"i":15,"v":-0.9,"x":0.415,"y":5.4,"z":6.28},{"i":15,"v":-0.9,"x":0.48,"y":5,"z":6.28},{"i":15,"v":-0.9,"x":0.545,"y":5.4,"z":6.28},{"i":15,"v":-0.9,"x":0.57,"y":6.28,"z":6.28},
{"i":16,"v":-1.5,"x":0.43,"y":6.28,"z":6.28},{"i":16,"v":-1.5,"x":0.445,"y":5.6,"z":6.28},{"i":16,"v":-1.5,"x":0.485,"y":5.33,"z":6.28},{"i":16,"v":-1.5,"x":0.525,"y":5.6,"z":6.28},{"i":16,"v":-1.5,"x":0.54,"y":6.28,"z":6.28},
{"i":17,"v":-0.3,"x":0.34,"y":0,"z":0},{"i":17,"v":-0.3,"x":0.38,"y":0,"z":1.26},{"i":17,"v":-0.3,"x":0.47,"y":0,"z":1.8},{"i":17,"v":-0.3,"x":0.56,"y":0,"z":1.26},{"i":17,"v":-0.3,"x":0.6,"y":0,"z":0},
{"i":18,"v":-0.9,"x":0.39,"y":0,"z":0},{"i":18,"v":-0.9,"x":0.415,"y":0,"z":0.9},{"i":18,"v":-0.9,"x":0.48,"y":0,"z":1.3},{"i":18,"v":-0.9,"x":0.545,"y":0,"z":0.9},{"i":18,"v":-0.9,"x":0.57,"y":0,"z":0},
{"i":19,"v":-1.5,"x":0.43,"y":0,"z":0},{"i":19,"v":-1.5,"x":0.445,"y":0,"z":0.65},{"i":19,"v":-1.5,"x":0.485,"y":0,"z":0.93},{"i":19,"v":-1.5,"x":0.525,"y":0,"z":0.65},{"i":19,"v":-1.5,"x":0.54,"y":0,"z":0},
{"i":20,"v":-2.1,"x":0.45,"y":0,"z":0},{"i":20,"v":-2.1,"x":0.465,"y":0,"z":0.42},{"i":20,"v":-2.1,"x":0.485,"y":0,"z":0.6},{"i":20,"v":-2.1,"x":0.505,"y":0,"z":0.42},{"i":20,"v":-2.1,"x":0.52,"y":0,"z":0},
{"i":21,"v":0.9,"x":0.72,"y":6.28,"z":6.28},{"i":21,"v":0.9,"x":0.745,"y":5.55,"z":6.28},{"i":21,"v":0.9,"x":0.8,"y":5.2,"z":6.28},{"i":21,"v":0.9,"x":0.855,"y":5.55,"z":6.28},{"i":21,"v":0.9,"x":0.88,"y":6.28,"z":6.28},
{"i":22,"v":1.5,"x":0.76,"y":6.28,"z":6.28},{"i":22,"v":1.5,"x":0.77,"y":6,"z":6.28},{"i":22,"v":1.5,"x":0.8,"y":5.8,"z":6.28},{"i":22,"v":1.5,"x":0.83,"y":6,"z":6.28},{"i":22,"v":1.5,"x":0.84,"y":6.28,"z":6.28},
{"i":23,"v":0.9,"x":0.72,"y":0,"z":0},{"i":23,"v":0.9,"x":0.745,"y":0,"z":0.8},{"i":23,"v":0.9,"x":0.8,"y":0,"z":1.18},{"i":23,"v":0.9,"x":0.855,"y":0,"z":0.8},{"i":23,"v":0.9,"x":0.88,"y":0,"z":0},
{"i":24,"v":1.5,"x":0.76,"y":0,"z":0},{"i":24,"v":1.5,"x":0.77,"y":0,"z":0.3},{"i":24,"v":1.5,"x":0.8,"y":0,"z":0.5},{"i":24,"v":1.5,"x":0.83,"y":0,"z":0.3},{"i":24,"v":1.5,"x":0.84,"y":0,"z":0},
{"i":25,"v":-0.3,"x":0.77,"y":3.14,"z":3.14},{"i":25,"v":-0.3,"x":0.8,"y":2.5,"z":3.8},{"i":25,"v":-0.3,"x":0.88,"y":2.06,"z":4.32},{"i":25,"v":-0.3,"x":1,"y":1.9,"z":4.4},
{"i":26,"v":-0.9,"x":0.8,"y":3.14,"z":3.14},{"i":26,"v":-0.9,"x":0.84,"y":2.6,"z":3.7},{"i":26,"v":-0.9,"x":0.9,"y":2.3,"z":4},{"i":26,"v":-0.9,"x":1,"y":2.2,"z":4.1},
{"i":27,"v":-1.5,"x":0.855,"y":3.14,"z":3.14},{"i":27,"v":-1.5,"x":0.875,"y":2.84,"z":3.44},{"i":27,"v":-1.5,"x":0.895,"y":3.14,"z":3.14}],
"dF":[{"i":1,"v":-0.3,"x":-1,"y":4.57,"z":6.28},{"i":1,"v":-0.3,"x":-0.9,"y":4.57,"z":6.28},{"i":1,"v":-0.3,"x":-0.8,"y":4.8,"z":6.28},{"i":1,"v":-0.3,"x":-0.74,"y":6.28,"z":6.28},
{"i":2,"v":-0.3,"x":-1,"y":0,"z":1.43},{"i":2,"v":-0.3,"x":-0.9,"y":0,"z":1.43},{"i":2,"v":-0.3,"x":-0.8,"y":0,"z":1.2},{"i":2,"v":-0.3,"x":-0.74,"y":0,"z":0},
{"i":3,"v":0.9,"x":-0.88,"y":3.14,"z":3.14},{"i":3,"v":0.9,"x":-0.85,"y":2.48,"z":3.8},{"i":3,"v":0.9,"x":-0.78,"y":2.2,"z":4.08},{"i":3,"v":0.9,"x":-0.71,"y":2.48,"z":3.8},{"i":3,"v":0.9,"x":-0.68,"y":3.14,"z":3.14},
{"i":4,"v":1.5,"x":-0.835,"y":3.14,"z":3.14},{"i":4,"v":1.5,"x":-0.82,"y":2.79,"z":3.49},{"i":4,"v":1.5,"x":-0.78,"y":2.64,"z":3.64},{"i":4,"v":1.5,"x":-0.74,"y":2.79,"z":3.49},{"i":4,"v":1.5,"x":-0.725,"y":3.14,"z":3.14},
{"i":5,"v":0.9,"x":-0.64,"y":6.28,"z":6.28},{"i":5,"v":0.9,"x":-0.61,"y":5.7,"z":6.28},{"i":5,"v":0.9,"x":-0.54,"y":5.45,"z":6.28},{"i":5,"v":0.9,"x":-0.47,"y":5.7,"z":6.28},{"i":5,"v":0.9,"x":-0.44,"y":6.28,"z":6.28},
{"i":6,"v":0.9,"x":-0.64,"y":0,"z":0},{"i":6,"v":0.9,"x":-0.61,"y":0,"z":0.56},{"i":6,"v":0.9,"x":-0.54,"y":0,"z":0.8},{"i":6,"v":0.9,"x":-0.47,"y":0,"z":0.56},{"i":6,"v":0.9,"x":-0.44,"y":0,"z":0},
{"i":7,"v":-0.3,"x":-0.61,"y":3.14,"z":3.14},{"i":7,"v":-0.3,"x":-0.56,"y":1.94,"z":4.34},{"i":7,"v":-0.3,"x":-0.44,"y":1.44,"z":4.84},{"i":7,"v":-0.3,"x":-0.32,"y":1.94,"z":4.34},{"i":7,"v":-0.3,"x":-0.27,"y":3.14,"z":3.14},
{"i":8,"v":-0.9,"x":-0.56,"y":3.14,"z":3.14},{"i":8,"v":-0.9,"x":-0.524,"y":2.29,"z":3.99},{"i":8,"v":-0.9,"x":-0.44,"y":1.94,"z":4.34},{"i":8,"v":-0.9,"x":-0.356,"y":2.29,"z":3.99},{"i":8,"v":-0.9,"x":-0.32,"y":3.14,"z":3.14},
{"i":9,"v":-1.5,"x":-0.51,"y":3.14,"z":3.14},{"i":9,"v":-1.5,"x":-0.49,"y":2.54,"z":3.74},{"i":9,"v":-1.5,"x":-0.44,"y":2.29,"z":3.99},{"i":9,"v":-1.5,"x":-0.39,"y":2.54,"z":3.74},{"i":9,"v":-1.5,"x":-0.37,"y":3.14,"z":3.14},
{"i":10,"v":-0.3,"x":-0.26,"y":6.28,"z":6.28},{"i":10,"v":-0.3,"x":-0.24,"y":5.1,"z":6.28},{"i":10,"v":-0.3,"x":-0.18,"y":4.57,"z":6.28},{"i":10,"v":-0.3,"x":-0.12,"y":5.1,"z":6.28},{"i":10,"v":-0.3,"x":-0.1,"y":6.28,"z":6.28},
{"i":11,"v":-0.3,"x":-0.26,"y":0,"z":0},{"i":11,"v":-0.3,"x":-0.24,"y":0,"z":1.24},{"i":11,"v":-0.3,"x":-0.18,"y":0,"z":1.76},{"i":11,"v":-0.3,"x":-0.12,"y":0,"z":1.24},{"i":11,"v":-0.3,"x":-0.1,"y":0,"z":0},
{"i":12,"v":-0.3,"x":0.15,"y":3.14,"z":3.14},{"i":12,"v":-0.3,"x":0.162,"y":2.35,"z":3.93},{"i":12,"v":-0.3,"x":0.19,"y":2.01,"z":4.27},{"i":12,"v":-0.3,"x":0.218,"y":2.35,"z":3.93},{"i":12,"v":-0.3,"x":0.23,"y":3.14,"z":3.14},
{"i":13,"v":-0.3,"x":0.38,"y":6.28,"z":6.28},{"i":13,"v":-0.3,"x":0.42,"y":5,"z":6.28},{"i":13,"v":-0.3,"x":0.51,"y":4.45,"z":6.28},{"i":13,"v":-0.3,"x":0.6,"y":5,"z":6.28},{"i":13,"v":-0.3,"x":0.64,"y":6.28,"z":6.28},
{"i":14,"v":-0.9,"x":0.42,"y":6.28,"z":6.28},{"i":14,"v":-0.9,"x":0.45,"y":5.27,"z":6.28},{"i":14,"v":-0.9,"x":0.51,"y":4.83,"z":6.28},{"i":14,"v":-0.9,"x":0.57,"y":5.27,"z":6.28},{"i":14,"v":-0.9,"x":0.6,"y":6.28,"z":6.28},
{"i":15,"v":-1.5,"x":0.45,"y":6.28,"z":6.28},{"i":15,"v":-1.5,"x":0.47,"y":5.7,"z":6.28},{"i":15,"v":-1.5,"x":0.51,"y":5.45,"z":6.28},{"i":15,"v":-1.5,"x":0.55,"y":5.7,"z":6.28},{"i":15,"v":-1.5,"x":0.57,"y":6.28,"z":6.28},
{"i":16,"v":-0.3,"x":0.38,"y":0,"z":0},{"i":16,"v":-0.3,"x":0.42,"y":0,"z":1.26},{"i":16,"v":-0.3,"x":0.51,"y":0,"z":1.8},{"i":16,"v":-0.3,"x":0.6,"y":0,"z":1.26},{"i":16,"v":-0.3,"x":0.64,"y":0,"z":0},
{"i":17,"v":-0.9,"x":0.42,"y":0,"z":0},{"i":17,"v":-0.9,"x":0.45,"y":0,"z":0.9},{"i":17,"v":-0.9,"x":0.51,"y":0,"z":1.3},{"i":17,"v":-0.9,"x":0.57,"y":0,"z":0.9},{"i":17,"v":-0.9,"x":0.6,"y":0,"z":0},
{"i":18,"v":-1.5,"x":0.45,"y":0,"z":0},{"i":18,"v":-1.5,"x":0.47,"y":0,"z":0.65},{"i":18,"v":-1.5,"x":0.51,"y":0,"z":0.93},{"i":18,"v":-1.5,"x":0.55,"y":0,"z":0.65},{"i":18,"v":-1.5,"x":0.57,"y":0,"z":0},
{"i":19,"v":-2.1,"x":0.47,"y":0,"z":0},{"i":19,"v":-2.1,"x":0.485,"y":0,"z":0.34},{"i":19,"v":-2.1,"x":0.51,"y":0,"z":0.48},{"i":19,"v":-2.1,"x":0.535,"y":0,"z":0.34},{"i":19,"v":-2.1,"x":0.55,"y":0,"z":0},
{"i":20,"v":0.9,"x":0.54,"y":3.14,"z":3.14},{"i":20,"v":0.9,"x":0.555,"y":2.85,"z":3.43},{"i":20,"v":0.9,"x":0.59,"y":2.72,"z":3.56},{"i":20,"v":0.9,"x":0.625,"y":2.85,"z":3.43},{"i":20,"v":0.9,"x":0.64,"y":3.14,"z":3.14},
{"i":21,"v":0.9,"x":0.72,"y":6.28,"z":6.28},{"i":21,"v":0.9,"x":0.745,"y":5.55,"z":6.28},{"i":21,"v":0.9,"x":0.8,"y":5.2,"z":6.28},{"i":21,"v":0.9,"x":0.855,"y":5.55,"z":6.28},{"i":21,"v":0.9,"x":0.88,"y":6.28,"z":6.28},
{"i":22,"v":1.5,"x":0.77,"y":6.28,"z":6.28},{"i":22,"v":1.5,"x":0.78,"y":6.05,"z":6.28},{"i":22,"v":1.5,"x":0.8,"y":5.9,"z":6.28},{"i":22,"v":1.5,"x":0.82,"y":6.05,"z":6.28},{"i":22,"v":1.5,"x":0.83,"y":6.28,"z":6.28},
{"i":23,"v":0.9,"x":0.72,"y":0,"z":0},{"i":23,"v":0.9,"x":0.745,"y":0,"z":0.75},{"i":23,"v":0.9,"x":0.8,"y":0,"z":1.06},{"i":23,"v":0.9,"x":0.855,"y":0,"z":0.75},{"i":23,"v":0.9,"x":0.88,"y":0,"z":0},
{"i":24,"v":1.5,"x":0.77,"y":0,"z":0},{"i":24,"v":1.5,"x":0.78,"y":0,"z":0.25},{"i":24,"v":1.5,"x":0.8,"y":0,"z":0.38},{"i":24,"v":1.5,"x":0.82,"y":0,"z":0.25},{"i":24,"v":1.5,"x":0.83,"y":0,"z":0},
{"i":25,"v":-0.3,"x":0.77,"y":3.14,"z":3.14},{"i":25,"v":-0.3,"x":0.8,"y":2.5,"z":3.8},{"i":25,"v":-0.3,"x":0.88,"y":2.06,"z":4.32},{"i":25,"v":-0.3,"x":1,"y":1.9,"z":4.4},
{"i":26,"v":-0.9,"x":0.8,"y":3.14,"z":3.14},{"i":26,"v":-0.9,"x":0.84,"y":2.6,"z":3.7},{"i":26,"v":-0.9,"x":0.9,"y":2.3,"z":4},{"i":26,"v":-0.9,"x":1,"y":2.2,"z":4.1},
{"i":27,"v":-1.5,"x":0.84,"y":3.14,"z":3.14},{"i":27,"v":-1.5,"x":0.86,"y":2.84,"z":3.44},{"i":27,"v":-1.5,"x":0.88,"y":3.14,"z":3.14}],
"dP":[{"i":1,"v":-0.3,"x":-0.84,"y":5.6,"z":6.28},{"i":1,"v":-0.3,"x":-0.78,"y":4.6,"z":6.28},{"i":1,"v":-0.3,"x":-0.69,"y":3.5,"z":6.28},{"i":1,"v":-0.3,"x":-0.28,"y":3.8,"z":6.28},{"i":1,"v":-0.3,"x":-0.24,"y":4.6,"z":6.28},{"i":1,"v":-0.3,"x":-0.23,"y":6.28,"z":6.28},
{"i":2,"v":-0.3,"x":-0.84,"y":0,"z":0.68},{"i":2,"v":-0.3,"x":-0.78,"y":0,"z":1.68},{"i":2,"v":-0.3,"x":-0.69,"y":0,"z":2.8},{"i":2,"v":-0.3,"x":-0.28,"y":0,"z":2.5},{"i":2,"v":-0.3,"x":-0.24,"y":0,"z":1.68},{"i":2,"v":-0.3,"x":-0.23,"y":0,"z":0},
{"i":3,"v":-0.3,"x":-0.62,"y":2.6,"z":3.7},{"i":3,"v":-0.3,"x":-0.28,"y":2.6,"z":3.7},
{"i":4,"v":-0.9,"x":-0.56,"y":3.14,"z":3.14},{"i":4,"v":-0.9,"x":-0.524,"y":1.46,"z":4.82},{"i":4,"v":-0.9,"x":-0.44,"y":0.74,"z":5.54},{"i":4,"v":-0.9,"x":-0.356,"y":1.46,"z":4.82},{"i":4,"v":-0.9,"x":-0.32,"y":3.14,"z":3.14},
{"i":5,"v":-0.9,"x":-0.73,"y":5.3,"z":5.3},{"i":5,"v":-0.9,"x":-0.66,"y":4.8,"z":5.5},{"i":5,"v":-0.9,"x":-0.55,"y":4.3,"z":5.6},{"i":5,"v":-0.9,"x":-0.45,"y":4.2,"z":5.5},
{"i":6,"v":-0.9,"x":-0.73,"y":0.98,"z":0.98},{"i":6,"v":-0.9,"x":-0.66,"y":0.78,"z":1.48},{"i":6,"v":-0.9,"x":-0.55,"y":0.68,"z":1.98},{"i":6,"v":-0.9,"x":-0.45,"y":0.78,"z":2.08},
{"i":7,"v":-1.5,"x":-0.52,"y":3.14,"z":3.14},{"i":7,"v":-1.5,"x":-0.496,"y":2.2,"z":4.08},{"i":7,"v":-1.5,"x":-0.44,"y":1.79,"z":4.49},{"i":7,"v":-1.5,"x":-0.384,"y":2.2,"z":4.08},{"i":7,"v":-1.5,"x":-0.36,"y":3.14,"z":3.14},
{"i":8,"v":-0.3,"x":-1,"y":2.4,"z":3.9},{"i":8,"v":-0.3,"x":-0.95,"y":2.8,"z":3.5},{"i":8,"v":-0.3,"x":-0.91,"y":3.14,"z":3.14},
{"i":9,"v":-0.3,"x":0.06,"y":3.14,"z":3.14},{"i":9,"v":-0.3,"x":0.096,"y":1.78,"z":4.5},{"i":9,"v":-0.3,"x":0.18,"y":1.19,"z":5.09},{"i":9,"v":-0.3,"x":0.264,"y":1.78,"z":4.5},{"i":9,"v":-0.3,"x":0.3,"y":3.14,"z":3.14},
{"i":10,"v":-0.3,"x":0.4,"y":6.28,"z":6.28},{"i":10,"v":-0.3,"x":0.44,"y":5.35,"z":6.28},{"i":10,"v":-0.3,"x":0.525,"y":4.95,"z":6.28},{"i":10,"v":-0.3,"x":0.61,"y":5.35,"z":6.28},{"i":10,"v":-0.3,"x":0.65,"y":6.28,"z":6.28},
{"i":11,"v":-0.3,"x":0.4,"y":0,"z":0},{"i":11,"v":-0.3,"x":0.44,"y":0,"z":0.93},{"i":11,"v":-0.3,"x":0.525,"y":0,"z":1.33},{"i":11,"v":-0.3,"x":0.61,"y":0,"z":0.93},{"i":11,"v":-0.3,"x":0.65,"y":0,"z":0},
{"i":12,"v":-0.9,"x":0.45,"y":6.28,"z":6.28},{"i":12,"v":-0.9,"x":0.465,"y":5.85,"z":6.28},{"i":12,"v":-0.9,"x":0.495,"y":5.65,"z":6.28},{"i":12,"v":-0.9,"x":0.525,"y":5.85,"z":6.28},{"i":12,"v":-0.9,"x":0.54,"y":6.28,"z":6.28},
{"i":13,"v":-0.9,"x":0.45,"y":0,"z":0},{"i":13,"v":-0.9,"x":0.465,"y":0,"z":0.43},{"i":13,"v":-0.9,"x":0.495,"y":0,"z":0.63},{"i":13,"v":-0.9,"x":0.525,"y":0,"z":0.43},{"i":13,"v":-0.9,"x":0.54,"y":0,"z":0},
{"i":14,"v":0.9,"x":0.41,"y":3.14,"z":3.14},{"i":14,"v":0.9,"x":0.44,"y":2.48,"z":3.8},{"i":14,"v":0.9,"x":0.51,"y":2.2,"z":4.08},{"i":14,"v":0.9,"x":0.58,"y":2.48,"z":3.8},{"i":14,"v":0.9,"x":0.61,"y":3.14,"z":3.14},
{"i":15,"v":0.9,"x":0.71,"y":6.28,"z":6.28},{"i":15,"v":0.9,"x":0.735,"y":5.6,"z":6.28},{"i":15,"v":0.9,"x":0.79,"y":5.2,"z":6.28},{"i":15,"v":0.9,"x":0.845,"y":5.6,"z":6.28},{"i":15,"v":0.9,"x":0.87,"y":6.28,"z":6.28},
{"i":16,"v":0.9,"x":0.71,"y":0,"z":0},{"i":16,"v":0.9,"x":0.735,"y":0,"z":0.75},{"i":16,"v":0.9,"x":0.79,"y":0,"z":1.08},{"i":16,"v":0.9,"x":0.845,"y":0,"z":0.75},{"i":16,"v":0.9,"x":0.87,"y":0,"z":0},
{"i":19,"v":-0.3,"x":0.78,"y":3.14,"z":3.14},{"i":19,"v":-0.3,"x":0.81,"y":2.5,"z":3.8},{"i":19,"v":-0.3,"x":0.88,"y":2,"z":4.3},{"i":19,"v":-0.3,"x":1,"y":1.9,"z":4.4},
{"i":20,"v":-0.9,"x":0.82,"y":3.14,"z":3.14},{"i":20,"v":-0.9,"x":0.86,"y":2.6,"z":3.7},{"i":20,"v":-0.9,"x":0.92,"y":2.3,"z":4},{"i":20,"v":-0.9,"x":1,"y":2.2,"z":4.1}],
"cb1":[{"a":0,"b":250,"v":125},{"a":250,"b":500,"v":375},{"a":500,"b":750,"v":625},{"a":750,"b":1000,"v":875},{"a":1000,"b":1250,"v":1125},{"a":1250,"b":1500,"v":1375},{"a":1500,"b":1750,"v":1625},{"a":1750,"b":2000,"v":1875},{"a":2000,"b":2250,"v":2125},{"a":2250,"b":2500,"v":2375},{"a":2500,"b":2750,"v":2625},{"a":2750,"b":3000,"v":2875},{"a":3000,"b":3250,"v":3125}],
"cb2":[{"a":-4.8,"b":-4.2,"v":-4.5},{"a":-4.2,"b":-3.6,"v":-3.9},{"a":-3.6,"b":-3,"v":-3.3},{"a":-3,"b":-2.4,"v":-2.7},{"a":-2.4,"b":-1.8,"v":-2.1},{"a":-1.8,"b":-1.2,"v":-1.5},{"a":-1.2,"b":-0.6,"v":-0.9},{"a":-0.6,"b":0,"v":-0.3},{"a":0,"b":0.6,"v":0.3},{"a":0.6,"b":1.2,"v":0.9},{"a":1.2,"b":1.8,"v":1.5},{"a":1.8,"b":2.4,"v":2.1},{"a":2.4,"b":3,"v":2.7},{"a":3,"b":3.6,"v":3.3},{"a":3.6,"b":4.2,"v":3.9},{"a":4.2,"b":4.8,"v":4.5}],
"logoR":[{"x":20.4,"y":22},{"x":32,"y":23},{"x":40.4,"y":25.3},{"x":45.4,"y":29},{"x":50.4,"y":24.6},{"x":57,"y":20.6},{"x":67,"y":19.3}],
"logoB":[{"x":20.4,"y":19.6},{"x":32,"y":20.6},{"x":40.4,"y":23},{"x":44.7,"y":26.3},{"x":48.7,"y":18},{"x":53.7,"y":13.6},{"x":60.4,"y":15.3},{"x":67,"y":16.6}]
},
"concat":[
{"width":102,"height":83.25,"title":"MCR","view":{"fill":"#040416","stroke":null},"resolve":{"axis":{"x":"independent","y":"independent"}},"encoding":{"x":{"field":"x","type":"quantitative","scale":{"domain":[-1,1],"nice":false},"axis":null},"y":{"field":"y","type":"quantitative","scale":{"domain":[0,6.2832],"nice":false},"axis":null},"y2":{"field":"z"},"color":{"field":"v","type":"quantitative","scale":{"scheme":"inferno","domain":[0,3250]}},"detail":{"field":"i","type":"nominal"}},"layer":[
{"data":{"name":"f"},"mark":{"type":"area","opacity":0},"encoding":{"x":{"field":"x","type":"quantitative","axis":{"values":[-1,-0.5,0,0.5,1],"labelExpr":"datum.value==0?'0':datum.value==1?'1':datum.value==-1?'-1':''","title":"cos𝜃","titleY":19}},"y":{"field":"y","type":"quantitative","axis":{"values":[0,1.5708,3.1416,4.7124,6.2832],"labelExpr":"datum.value==0?'0':datum.value>6?'2𝜋':datum.value>3&&datum.value<4?'𝜋':''","title":"𝜙","titleX":-17.3}}}},
{"data":{"name":"f"},"mark":{"type":"area","opacity":0},"encoding":{"x":{"field":"x","type":"quantitative","axis":{"orient":"top","values":[-1,-0.5,0,0.5,1],"labels":false,"title":null}},"y":{"field":"y","type":"quantitative","axis":{"orient":"right","values":[0,1.5708,3.1416,4.7124,6.2832],"labels":false,"title":null}}}},
{"data":{"name":"lA"},"mark":{"type":"area","interpolate":"monotone"}},
{"data":{"name":"rA"},"mark":{"type":"area","interpolate":"monotone"}},
{"data":{"values":[{"x":0.21,"y":3.25,"z":3.25,"i":0,"v":0,"t":"2.6 GeV"}]},"mark":{"type":"text","fontSize":12.5,"font":"DejaVu Sans"},"encoding":{"text":{"field":"t"},"color":{"value":"white"}}}]},
{"width":102,"height":83.25,"title":"MIN","view":{"fill":"#040416","stroke":null},"resolve":{"axis":{"x":"independent","y":"independent"}},"encoding":{"x":{"field":"x","type":"quantitative","scale":{"domain":[-1,1],"nice":false},"axis":null},"y":{"field":"y","type":"quantitative","scale":{"domain":[0,6.2832],"nice":false},"axis":null},"y2":{"field":"z"},"color":{"field":"v","type":"quantitative","scale":{"scheme":"inferno","domain":[0,3250]}},"detail":{"field":"i","type":"nominal"}},"layer":[
{"data":{"name":"f"},"mark":{"type":"area","opacity":0},"encoding":{"x":{"field":"x","type":"quantitative","axis":{"values":[-1,-0.5,0,0.5,1],"labels":false,"title":null}},"y":{"field":"y","type":"quantitative","axis":{"values":[0,1.5708,3.1416,4.7124,6.2832],"labels":false,"title":null}}}},
{"data":{"name":"f"},"mark":{"type":"area","opacity":0},"encoding":{"x":{"field":"x","type":"quantitative","axis":{"orient":"top","values":[-1,-0.5,0,0.5,1],"labels":false,"title":null}},"y":{"field":"y","type":"quantitative","axis":{"orient":"right","values":[0,1.5708,3.1416,4.7124,6.2832],"labels":false,"title":null}}}},
{"data":{"name":"lA"},"mark":{"type":"area","interpolate":"monotone"}},
{"data":{"name":"rB"},"mark":{"type":"area","interpolate":"monotone"}}]},
{"width":102,"height":83.25,"title":"MIN+𝑓/𝑃","view":{"fill":"#040416","stroke":null},"resolve":{"axis":{"x":"independent","y":"independent"}},"encoding":{"x":{"field":"x","type":"quantitative","scale":{"domain":[-1,1],"nice":false},"axis":null},"y":{"field":"y","type":"quantitative","scale":{"domain":[0,6.2832],"nice":false},"axis":null},"y2":{"field":"z"},"color":{"field":"v","type":"quantitative","scale":{"scheme":"inferno","domain":[0,3250]}},"detail":{"field":"i","type":"nominal"}},"layer":[
{"data":{"name":"f"},"mark":{"type":"area","opacity":0},"encoding":{"x":{"field":"x","type":"quantitative","axis":{"values":[-1,-0.5,0,0.5,1],"labels":false,"title":null}},"y":{"field":"y","type":"quantitative","axis":{"values":[0,1.5708,3.1416,4.7124,6.2832],"labels":false,"title":null}}}},
{"data":{"name":"f"},"mark":{"type":"area","opacity":0},"encoding":{"x":{"field":"x","type":"quantitative","axis":{"orient":"top","values":[-1,-0.5,0,0.5,1],"labels":false,"title":null}},"y":{"field":"y","type":"quantitative","axis":{"orient":"right","values":[0,1.5708,3.1416,4.7124,6.2832],"labels":false,"title":null}}}},
{"data":{"name":"lF"},"mark":{"type":"area","interpolate":"monotone"}},
{"data":{"name":"rB"},"mark":{"type":"area","interpolate":"monotone"}}]},
{"width":102,"height":83.25,"title":"MIN+𝑃/𝑃","view":{"fill":"#040416","stroke":null},"resolve":{"axis":{"x":"independent","y":"independent"}},"encoding":{"x":{"field":"x","type":"quantitative","scale":{"domain":[-1,1],"nice":false},"axis":null},"y":{"field":"y","type":"quantitative","scale":{"domain":[0,6.2832],"nice":false},"axis":null},"y2":{"field":"z"},"color":{"field":"v","type":"quantitative","scale":{"scheme":"inferno","domain":[0,3250]}},"detail":{"field":"i","type":"nominal"}},"layer":[
{"data":{"name":"f"},"mark":{"type":"area","opacity":0},"encoding":{"x":{"field":"x","type":"quantitative","axis":{"values":[-1,-0.5,0,0.5,1],"labels":false,"title":null}},"y":{"field":"y","type":"quantitative","axis":{"values":[0,1.5708,3.1416,4.7124,6.2832],"labels":false,"title":null}}}},
{"data":{"name":"f"},"mark":{"type":"area","opacity":0},"encoding":{"x":{"field":"x","type":"quantitative","axis":{"orient":"top","values":[-1,-0.5,0,0.5,1],"labels":false,"title":null}},"y":{"field":"y","type":"quantitative","axis":{"orient":"right","values":[0,1.5708,3.1416,4.7124,6.2832],"labels":false,"title":null}}}},
{"data":{"name":"lP"},"mark":{"type":"area","interpolate":"monotone"}},
{"data":{"name":"rB"},"mark":{"type":"area","interpolate":"monotone"}}]},
{"width":23,"height":83.25,"encoding":{"x":{"datum":0.5,"type":"quantitative","scale":{"domain":[0,1]},"axis":null},"x2":{"datum":1},"y":{"field":"a","type":"quantitative","scale":{"domain":[0,3250],"nice":false},"axis":{"orient":"right","values":[0,500,1000,1500,2000,2500,3000],"format":"d","title":null,"domain":false}},"y2":{"field":"b"}},"layer":[{"data":{"name":"cb1"},"mark":{"type":"rect"},"encoding":{"color":{"field":"v","type":"quantitative","scale":{"scheme":"inferno","domain":[0,3250]}}}},{"data":{"values":[{"a":0,"b":3250}]},"mark":{"type":"rect","fill":null,"stroke":"#808080","strokeWidth":1}}]},

{"width":102,"height":83.25,"data":{"values":[{"t":""}]},"mark":{"type":"text"},"encoding":{"text":{"field":"t"}}},
{"width":102,"height":83.25,"view":{"fill":"#21988a","stroke":null},"resolve":{"axis":{"x":"independent","y":"independent"}},"encoding":{"x":{"field":"x","type":"quantitative","scale":{"domain":[-1,1],"nice":false},"axis":null},"y":{"field":"y","type":"quantitative","scale":{"domain":[0,6.2832],"nice":false},"axis":null},"y2":{"field":"z"},"color":{"field":"v","type":"ordinal","scale":{"domain":[-4.5,-3.9,-3.3,-2.7,-2.1,-1.5,-0.9,-0.3,0.3,0.9,1.5,2.1,2.7,3.3,3.9,4.5]}},"detail":{"field":"i","type":"nominal"}},"layer":[
{"data":{"name":"f"},"mark":{"type":"area","opacity":0},"encoding":{"x":{"field":"x","type":"quantitative","axis":{"values":[-1,-0.5,0,0.5,1],"labels":false,"title":null}},"y":{"field":"y","type":"quantitative","axis":{"values":[0,1.5708,3.1416,4.7124,6.2832],"labelExpr":"datum.value==0?'0':datum.value>6?'2𝜋':datum.value>3&&datum.value<4?'𝜋':''","title":"𝜙","titleX":-17.3}}}},
{"data":{"name":"f"},"mark":{"type":"area","opacity":0},"encoding":{"x":{"field":"x","type":"quantitative","axis":{"orient":"top","values":[-1,-0.5,0,0.5,1],"labels":false,"title":null}},"y":{"field":"y","type":"quantitative","axis":{"orient":"right","values":[0,1.5708,3.1416,4.7124,6.2832],"labels":false,"title":null}}}},
{"data":{"name":"dM"},"mark":{"type":"area","interpolate":"monotone"}},
{"data":{"name":"dC"},"mark":{"type":"area","interpolate":"monotone"}}]},
{"width":102,"height":83.25,"view":{"fill":"#21988a","stroke":null},"resolve":{"axis":{"x":"independent","y":"independent"}},"encoding":{"x":{"field":"x","type":"quantitative","scale":{"domain":[-1,1],"nice":false},"axis":null},"y":{"field":"y","type":"quantitative","scale":{"domain":[0,6.2832],"nice":false},"axis":null},"y2":{"field":"z"},"color":{"field":"v","type":"ordinal","scale":{"domain":[-4.5,-3.9,-3.3,-2.7,-2.1,-1.5,-0.9,-0.3,0.3,0.9,1.5,2.1,2.7,3.3,3.9,4.5]}},"detail":{"field":"i","type":"nominal"}},"layer":[
{"data":{"name":"f"},"mark":{"type":"area","opacity":0},"encoding":{"x":{"field":"x","type":"quantitative","axis":{"values":[-1,-0.5,0,0.5,1],"labels":false,"title":null}},"y":{"field":"y","type":"quantitative","axis":{"values":[0,1.5708,3.1416,4.7124,6.2832],"labels":false,"title":null}}}},
{"data":{"name":"f"},"mark":{"type":"area","opacity":0},"encoding":{"x":{"field":"x","type":"quantitative","axis":{"orient":"top","values":[-1,-0.5,0,0.5,1],"labels":false,"title":null}},"y":{"field":"y","type":"quantitative","axis":{"orient":"right","values":[0,1.5708,3.1416,4.7124,6.2832],"labels":false,"title":null}}}},
{"data":{"name":"dF"},"mark":{"type":"area","interpolate":"monotone"}},
{"data":{"name":"dC"},"mark":{"type":"area","interpolate":"monotone"}}]},
{"width":102,"height":83.25,"view":{"fill":"#21988a","stroke":null},"resolve":{"axis":{"x":"independent","y":"independent"}},"encoding":{"x":{"field":"x","type":"quantitative","scale":{"domain":[-1,1],"nice":false},"axis":null},"y":{"field":"y","type":"quantitative","scale":{"domain":[0,6.2832],"nice":false},"axis":null},"y2":{"field":"z"},"color":{"field":"v","type":"ordinal","scale":{"domain":[-4.5,-3.9,-3.3,-2.7,-2.1,-1.5,-0.9,-0.3,0.3,0.9,1.5,2.1,2.7,3.3,3.9,4.5]}},"detail":{"field":"i","type":"nominal"}},"layer":[
{"data":{"name":"f"},"mark":{"type":"area","opacity":0},"encoding":{"x":{"field":"x","type":"quantitative","axis":{"values":[-1,-0.5,0,0.5,1],"labels":false,"title":null}},"y":{"field":"y","type":"quantitative","axis":{"values":[0,1.5708,3.1416,4.7124,6.2832],"labels":false,"title":null}}}},
{"data":{"name":"f"},"mark":{"type":"area","opacity":0},"encoding":{"x":{"field":"x","type":"quantitative","axis":{"orient":"top","values":[-1,-0.5,0,0.5,1],"labels":false,"title":null}},"y":{"field":"y","type":"quantitative","axis":{"orient":"right","values":[0,1.5708,3.1416,4.7124,6.2832],"labels":false,"title":null}}}},
{"data":{"name":"dP"},"mark":{"type":"area","interpolate":"monotone"}},
{"data":{"name":"dC"},"mark":{"type":"area","interpolate":"monotone"}}]},
{"width":23,"height":83.25,"encoding":{"x":{"datum":0.5,"type":"quantitative","scale":{"domain":[0,1]},"axis":null},"x2":{"datum":1},"y":{"field":"a","type":"quantitative","scale":{"domain":[-4.8,4.8],"nice":false},"axis":{"orient":"right","values":[-4.8,-3.6,-2.4,-1.2,0,1.2,2.4,3.6,4.8],"format":".1f","title":null,"domain":false}},"y2":{"field":"b"}},"layer":[{"data":{"name":"cb2"},"mark":{"type":"rect"},"encoding":{"color":{"field":"v","type":"ordinal","scale":{"domain":[-4.5,-3.9,-3.3,-2.7,-2.1,-1.5,-0.9,-0.3,0.3,0.9,1.5,2.1,2.7,3.3,3.9,4.5]}}}},{"data":{"values":[{"a":-4.8,"b":4.8}]},"mark":{"type":"rect","fill":null,"stroke":"#808080","strokeWidth":1}}]},

{"width":102,"height":83.25,"view":{"fill":"#040416","stroke":null},"resolve":{"axis":{"x":"independent","y":"independent"}},"encoding":{"x":{"field":"x","type":"quantitative","scale":{"domain":[-1,1],"nice":false},"axis":null},"y":{"field":"y","type":"quantitative","scale":{"domain":[0,6.2832],"nice":false},"axis":null},"y2":{"field":"z"},"color":{"field":"v","type":"quantitative","scale":{"scheme":"inferno","domain":[0,3250]}},"detail":{"field":"i","type":"nominal"}},"layer":[
{"data":{"name":"f"},"mark":{"type":"area","opacity":0},"encoding":{"x":{"field":"x","type":"quantitative","axis":{"values":[-1,-0.5,0,0.5,1],"labelExpr":"datum.value==0?'0':datum.value==1?'1':datum.value==-1?'-1':''","title":"cos𝜃","titleY":19}},"y":{"field":"y","type":"quantitative","axis":{"values":[0,1.5708,3.1416,4.7124,6.2832],"labelExpr":"datum.value==0?'0':datum.value>6?'2𝜋':datum.value>3&&datum.value<4?'𝜋':''","title":"𝜙","titleX":-17.3}}}},
{"data":{"name":"f"},"mark":{"type":"area","opacity":0},"encoding":{"x":{"field":"x","type":"quantitative","axis":{"orient":"top","values":[-1,-0.5,0,0.5,1],"labels":false,"title":null}},"y":{"field":"y","type":"quantitative","axis":{"orient":"right","values":[0,1.5708,3.1416,4.7124,6.2832],"labels":false,"title":null}}}},
{"data":{"name":"lA"},"mark":{"type":"area","interpolate":"monotone"}},
{"data":{"name":"rA"},"mark":{"type":"area","interpolate":"monotone"}},
{"data":{"values":[{"x":0.21,"y":3.25,"z":3.25,"i":0,"v":0,"t":"2.8 GeV"}]},"mark":{"type":"text","fontSize":12.5,"font":"DejaVu Sans"},"encoding":{"text":{"field":"t"},"color":{"value":"white"}}}]},
{"width":102,"height":83.25,"view":{"fill":"#040416","stroke":null},"resolve":{"axis":{"x":"independent","y":"independent"}},"encoding":{"x":{"field":"x","type":"quantitative","scale":{"domain":[-1,1],"nice":false},"axis":null},"y":{"field":"y","type":"quantitative","scale":{"domain":[0,6.2832],"nice":false},"axis":null},"y2":{"field":"z"},"color":{"field":"v","type":"quantitative","scale":{"scheme":"inferno","domain":[0,3250]}},"detail":{"field":"i","type":"nominal"}},"layer":[
{"data":{"name":"f"},"mark":{"type":"area","opacity":0},"encoding":{"x":{"field":"x","type":"quantitative","axis":{"values":[-1,-0.5,0,0.5,1],"labels":false,"title":null}},"y":{"field":"y","type":"quantitative","axis":{"values":[0,1.5708,3.1416,4.7124,6.2832],"labels":false,"title":null}}}},
{"data":{"name":"f"},"mark":{"type":"area","opacity":0},"encoding":{"x":{"field":"x","type":"quantitative","axis":{"orient":"top","values":[-1,-0.5,0,0.5,1],"labels":false,"title":null}},"y":{"field":"y","type":"quantitative","axis":{"orient":"right","values":[0,1.5708,3.1416,4.7124,6.2832],"labels":false,"title":null}}}},
{"data":{"name":"lA"},"mark":{"type":"area","interpolate":"monotone"}},
{"data":{"name":"rB"},"mark":{"type":"area","interpolate":"monotone"}}]},
{"width":102,"height":83.25,"view":{"fill":"#040416","stroke":null},"resolve":{"axis":{"x":"independent","y":"independent"}},"encoding":{"x":{"field":"x","type":"quantitative","scale":{"domain":[-1,1],"nice":false},"axis":null},"y":{"field":"y","type":"quantitative","scale":{"domain":[0,6.2832],"nice":false},"axis":null},"y2":{"field":"z"},"color":{"field":"v","type":"quantitative","scale":{"scheme":"inferno","domain":[0,3250]}},"detail":{"field":"i","type":"nominal"}},"layer":[
{"data":{"name":"f"},"mark":{"type":"area","opacity":0},"encoding":{"x":{"field":"x","type":"quantitative","axis":{"values":[-1,-0.5,0,0.5,1],"labels":false,"title":null}},"y":{"field":"y","type":"quantitative","axis":{"values":[0,1.5708,3.1416,4.7124,6.2832],"labels":false,"title":null}}}},
{"data":{"name":"f"},"mark":{"type":"area","opacity":0},"encoding":{"x":{"field":"x","type":"quantitative","axis":{"orient":"top","values":[-1,-0.5,0,0.5,1],"labels":false,"title":null}},"y":{"field":"y","type":"quantitative","axis":{"orient":"right","values":[0,1.5708,3.1416,4.7124,6.2832],"labels":false,"title":null}}}},
{"data":{"name":"lF"},"mark":{"type":"area","interpolate":"monotone"}},
{"data":{"name":"rB"},"mark":{"type":"area","interpolate":"monotone"}}]},
{"width":102,"height":83.25,"view":{"fill":"#040416","stroke":null},"resolve":{"axis":{"x":"independent","y":"independent"}},"encoding":{"x":{"field":"x","type":"quantitative","scale":{"domain":[-1,1],"nice":false},"axis":null},"y":{"field":"y","type":"quantitative","scale":{"domain":[0,6.2832],"nice":false},"axis":null},"y2":{"field":"z"},"color":{"field":"v","type":"quantitative","scale":{"scheme":"inferno","domain":[0,3250]}},"detail":{"field":"i","type":"nominal"}},"layer":[
{"data":{"name":"f"},"mark":{"type":"area","opacity":0},"encoding":{"x":{"field":"x","type":"quantitative","axis":{"values":[-1,-0.5,0,0.5,1],"labels":false,"title":null}},"y":{"field":"y","type":"quantitative","axis":{"values":[0,1.5708,3.1416,4.7124,6.2832],"labels":false,"title":null}}}},
{"data":{"name":"f"},"mark":{"type":"area","opacity":0},"encoding":{"x":{"field":"x","type":"quantitative","axis":{"orient":"top","values":[-1,-0.5,0,0.5,1],"labels":false,"title":null}},"y":{"field":"y","type":"quantitative","axis":{"orient":"right","values":[0,1.5708,3.1416,4.7124,6.2832],"labels":false,"title":null}}}},
{"data":{"name":"lP"},"mark":{"type":"area","interpolate":"monotone"}},
{"data":{"name":"rB"},"mark":{"type":"area","interpolate":"monotone"}}]},
{"width":23,"height":83.25,"encoding":{"x":{"datum":0.5,"type":"quantitative","scale":{"domain":[0,1]},"axis":null},"x2":{"datum":1},"y":{"field":"a","type":"quantitative","scale":{"domain":[0,3250],"nice":false},"axis":{"orient":"right","values":[0,500,1000,1500,2000,2500,3000],"format":"d","title":null,"domain":false}},"y2":{"field":"b"}},"layer":[{"data":{"name":"cb1"},"mark":{"type":"rect"},"encoding":{"color":{"field":"v","type":"quantitative","scale":{"scheme":"inferno","domain":[0,3250]}}}},{"data":{"values":[{"a":0,"b":3250}]},"mark":{"type":"rect","fill":null,"stroke":"#808080","strokeWidth":1}}]},

{"width":102,"height":83.25,"encoding":{"x":{"field":"x","type":"quantitative","scale":{"domain":[0,102],"nice":false},"axis":null},"y":{"field":"y","type":"quantitative","scale":{"domain":[0,83.25],"nice":false},"axis":null}},"layer":[
{"data":{"values":[{"x":12,"y":9.5,"t":"J"}]},"mark":{"type":"text","font":"Liberation Serif","fontWeight":"bold","fontStyle":"italic","fontSize":46,"color":"#2278b8","baseline":"alphabetic"},"encoding":{"text":{"field":"t"}}},
{"data":{"values":[{"x":37,"y":31.3,"t":"P"},{"x":60.4,"y":31.3,"t":"C"}]},"mark":{"type":"text","font":"Liberation Serif","fontWeight":"bold","fontStyle":"italic","fontSize":19,"color":"#2278b8","baseline":"alphabetic"},"encoding":{"text":{"field":"t"}}},
{"data":{"values":[{"x":48,"y":31.3,"t":"A"}]},"mark":{"type":"text","font":"Liberation Serif","fontWeight":"bold","fontStyle":"italic","fontSize":19,"color":"#d9323a","baseline":"alphabetic"},"encoding":{"text":{"field":"t"}}},
{"data":{"name":"logoR"},"mark":{"type":"line","color":"#e8747a","strokeWidth":1,"interpolate":"monotone"}},
{"data":{"name":"logoB"},"mark":{"type":"line","color":"#6f9fd4","strokeWidth":1,"interpolate":"monotone"}}]},
{"width":102,"height":83.25,"view":{"fill":"#21988a","stroke":null},"resolve":{"axis":{"x":"independent","y":"independent"}},"encoding":{"x":{"field":"x","type":"quantitative","scale":{"domain":[-1,1],"nice":false},"axis":null},"y":{"field":"y","type":"quantitative","scale":{"domain":[0,6.2832],"nice":false},"axis":null},"y2":{"field":"z"},"color":{"field":"v","type":"ordinal","scale":{"domain":[-4.5,-3.9,-3.3,-2.7,-2.1,-1.5,-0.9,-0.3,0.3,0.9,1.5,2.1,2.7,3.3,3.9,4.5]}},"detail":{"field":"i","type":"nominal"}},"layer":[
{"data":{"name":"f"},"mark":{"type":"area","opacity":0},"encoding":{"x":{"field":"x","type":"quantitative","axis":{"values":[-1,-0.5,0,0.5,1],"labelExpr":"datum.value==0?'0':datum.value==1?'1':datum.value==-1?'-1':''","title":"cos𝜃","titleY":19}},"y":{"field":"y","type":"quantitative","axis":{"values":[0,1.5708,3.1416,4.7124,6.2832],"labelExpr":"datum.value==0?'0':datum.value>6?'2𝜋':datum.value>3&&datum.value<4?'𝜋':''","title":"𝜙","titleX":-17.3}}}},
{"data":{"name":"f"},"mark":{"type":"area","opacity":0},"encoding":{"x":{"field":"x","type":"quantitative","axis":{"orient":"top","values":[-1,-0.5,0,0.5,1],"labels":false,"title":null}},"y":{"field":"y","type":"quantitative","axis":{"orient":"right","values":[0,1.5708,3.1416,4.7124,6.2832],"labels":false,"title":null}}}},
{"data":{"name":"dM"},"mark":{"type":"area","interpolate":"monotone"}},
{"data":{"name":"dC"},"mark":{"type":"area","interpolate":"monotone"}}]},
{"width":102,"height":83.25,"view":{"fill":"#21988a","stroke":null},"resolve":{"axis":{"x":"independent","y":"independent"}},"encoding":{"x":{"field":"x","type":"quantitative","scale":{"domain":[-1,1],"nice":false},"axis":null},"y":{"field":"y","type":"quantitative","scale":{"domain":[0,6.2832],"nice":false},"axis":null},"y2":{"field":"z"},"color":{"field":"v","type":"ordinal","scale":{"domain":[-4.5,-3.9,-3.3,-2.7,-2.1,-1.5,-0.9,-0.3,0.3,0.9,1.5,2.1,2.7,3.3,3.9,4.5]}},"detail":{"field":"i","type":"nominal"}},"layer":[
{"data":{"name":"f"},"mark":{"type":"area","opacity":0},"encoding":{"x":{"field":"x","type":"quantitative","axis":{"values":[-1,-0.5,0,0.5,1],"labelExpr":"datum.value==0?'0':datum.value==1?'1':datum.value==-1?'-1':''","title":"cos𝜃","titleY":19}},"y":{"field":"y","type":"quantitative","axis":{"values":[0,1.5708,3.1416,4.7124,6.2832],"labels":false,"title":null}}}},
{"data":{"name":"f"},"mark":{"type":"area","opacity":0},"encoding":{"x":{"field":"x","type":"quantitative","axis":{"orient":"top","values":[-1,-0.5,0,0.5,1],"labels":false,"title":null}},"y":{"field":"y","type":"quantitative","axis":{"orient":"right","values":[0,1.5708,3.1416,4.7124,6.2832],"labels":false,"title":null}}}},
{"data":{"name":"dF"},"mark":{"type":"area","interpolate":"monotone"}},
{"data":{"name":"dC"},"mark":{"type":"area","interpolate":"monotone"}}]},
{"width":102,"height":83.25,"view":{"fill":"#21988a","stroke":null},"resolve":{"axis":{"x":"independent","y":"independent"}},"encoding":{"x":{"field":"x","type":"quantitative","scale":{"domain":[-1,1],"nice":false},"axis":null},"y":{"field":"y","type":"quantitative","scale":{"domain":[0,6.2832],"nice":false},"axis":null},"y2":{"field":"z"},"color":{"field":"v","type":"ordinal","scale":{"domain":[-4.5,-3.9,-3.3,-2.7,-2.1,-1.5,-0.9,-0.3,0.3,0.9,1.5,2.1,2.7,3.3,3.9,4.5]}},"detail":{"field":"i","type":"nominal"}},"layer":[
{"data":{"name":"f"},"mark":{"type":"area","opacity":0},"encoding":{"x":{"field":"x","type":"quantitative","axis":{"values":[-1,-0.5,0,0.5,1],"labelExpr":"datum.value==0?'0':datum.value==1?'1':datum.value==-1?'-1':''","title":"cos𝜃","titleY":19}},"y":{"field":"y","type":"quantitative","axis":{"values":[0,1.5708,3.1416,4.7124,6.2832],"labels":false,"title":null}}}},
{"data":{"name":"f"},"mark":{"type":"area","opacity":0},"encoding":{"x":{"field":"x","type":"quantitative","axis":{"orient":"top","values":[-1,-0.5,0,0.5,1],"labels":false,"title":null}},"y":{"field":"y","type":"quantitative","axis":{"orient":"right","values":[0,1.5708,3.1416,4.7124,6.2832],"labels":false,"title":null}}}},
{"data":{"name":"dP"},"mark":{"type":"area","interpolate":"monotone"}},
{"data":{"name":"dC"},"mark":{"type":"area","interpolate":"monotone"}}]},
{"width":23,"height":83.25,"encoding":{"x":{"datum":0.5,"type":"quantitative","scale":{"domain":[0,1]},"axis":null},"x2":{"datum":1},"y":{"field":"a","type":"quantitative","scale":{"domain":[-4.8,4.8],"nice":false},"axis":{"orient":"right","values":[-4.8,-3.6,-2.4,-1.2,0,1.2,2.4,3.6,4.8],"format":".1f","title":null,"domain":false}},"y2":{"field":"b"}},"layer":[{"data":{"name":"cb2"},"mark":{"type":"rect"},"encoding":{"color":{"field":"v","type":"ordinal","scale":{"domain":[-4.5,-3.9,-3.3,-2.7,-2.1,-1.5,-0.9,-0.3,0.3,0.9,1.5,2.1,2.7,3.3,3.9,4.5]}}}},{"data":{"values":[{"a":-4.8,"b":4.8}]},"mark":{"type":"rect","fill":null,"stroke":"#808080","strokeWidth":1}}]}
]}
